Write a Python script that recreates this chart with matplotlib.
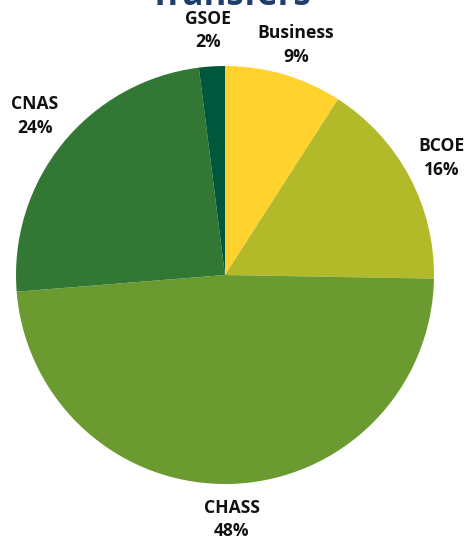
import matplotlib; matplotlib.use("Agg")
import matplotlib.pyplot as plt

plt.rcParams["font.family"] = ["Open Sans", "DejaVu Sans"]

# slices clockwise from 12 o'clock
labels = ["Business", "BCOE", "CHASS", "CNAS", "GSOE"]
shares = [9.1, 16.2, 48.5, 24.3, 2.0]
shown = ["9%", "16%", "48%", "24%", "2%"]
colors = ["#FFD22E", "#B3BA2A", "#6B9B30", "#327834", "#00573B"]
# label anchor points (data coords, unit radius)
label_xy = [(0.34, 1.10), (1.035, 0.56), (0.033, -1.17), (-0.91, 0.76), (-0.08, 1.17)]

fig = plt.figure(figsize=(4.65, 5.42), dpi=100)
ax = fig.add_axes([16/465, 58/542, 418/465, 418/542])
ax.pie(shares, colors=colors, startangle=90, counterclock=False,
       radius=1, wedgeprops=dict(linewidth=0))
for (x, y), lab, pct in zip(label_xy, labels, shown):
    ax.text(x, y, f"{lab}\n{pct}", ha="center", va="center",
            fontsize=12.6, fontweight="bold", color="#111111", linespacing=1.4)
ax.set_xlim(-1, 1); ax.set_ylim(-1, 1); ax.set_aspect("equal")
ax.set_axis_off()

fig.text(0.495, 1 - 5/542, "Transfers", ha="center", va="baseline",
         fontsize=25, fontweight="bold", color="#1F3E6B")

fig.savefig("out.png", dpi=100, facecolor="white")
